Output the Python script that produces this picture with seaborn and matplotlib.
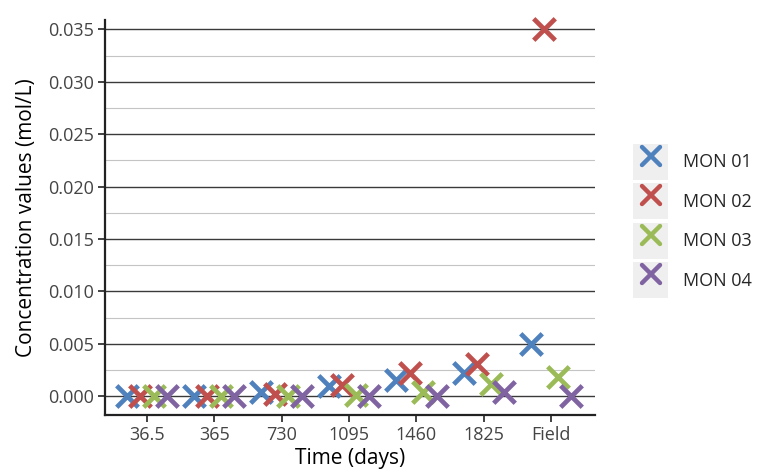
import matplotlib
matplotlib.use("Agg")
import matplotlib.pyplot as plt
from matplotlib.lines import Line2D
from matplotlib.patches import Patch
from matplotlib.markers import MarkerStyle
from matplotlib.legend_handler import HandlerTuple
from matplotlib.ticker import MultipleLocator, FormatStrFormatter
import seaborn as sns
import pandas as pd

# Sampling times (categories on the x axis)
times = ["36.5", "365", "730", "1095", "1460", "1825", "Field"]
monitors = ["MON 01", "MON 02", "MON 03", "MON 04"]
colors = ["#4f81bd", "#c0504d", "#9bbb59", "#8064a2"]

# Concentration (mol/L) per monitor, one value per time
mon01 = [0.00005, 0.00005, 0.00038, 0.00097, 0.0015, 0.0022, 0.0050]
mon02 = [0.00005, 0.00005, 0.00023, 0.0011, 0.0022, 0.0031, 0.0350]
mon03 = [0.00005, 0.00005, 0.00003, 0.0001, 0.0004, 0.0012, 0.0018]
mon04 = [0.00003, 0.00003, 0.00003, 0.00003, 0.00005, 0.0004, 0.00002]

rows = []
for name, vals in zip(monitors, [mon01, mon02, mon03, mon04]):
    for t, v in zip(times, vals):
        rows.append({"time": t, "monitor": name, "conc": v})
df = pd.DataFrame(rows)

sns.set_theme(style="white")
plt.rcParams["font.family"] = ["Open Sans", "DejaVu Sans"]

fig = plt.figure(figsize=(7.59, 4.73), dpi=100)
ax = fig.add_axes([105 / 759, 1 - 415 / 473, 490 / 759, 395 / 473])

xmark = MarkerStyle("x", capstyle="round")
sns.stripplot(data=df, x="time", y="conc", hue="monitor", order=times,
              hue_order=monitors, palette=colors, dodge=True, jitter=False,
              marker=xmark, size=15.5, linewidth=3.4, legend=False, ax=ax,
              zorder=3, clip_on=False)

ax.set_xlim(-0.62, 6.65)
ax.set_ylim(-0.0018, 0.0359)
ax.yaxis.set_major_locator(MultipleLocator(0.005))
ax.yaxis.set_minor_locator(MultipleLocator(0.0025))
ax.yaxis.set_major_formatter(FormatStrFormatter("%.3f"))
ax.grid(False)
ax.grid(axis="y", which="major", color="#3a3a3a", linewidth=1.0, zorder=0)
ax.grid(axis="y", which="minor", color="#c4c4c4", linewidth=0.8, zorder=0)
ax.set_axisbelow(True)

for side in ["top", "right"]:
    ax.spines[side].set_visible(False)
for side in ["left", "bottom"]:
    ax.spines[side].set_color("#222222")
    ax.spines[side].set_linewidth(1.6)

ax.tick_params(axis="both", which="major", direction="out", length=5,
               width=1.2, color="#222222", labelsize=13,
               labelcolor="#444444", left=True, bottom=True, pad=3)
ax.tick_params(axis="y", which="minor", length=0)

ax.set_xlabel("Time (days)", fontsize=15, color="black", labelpad=3)
ax.set_ylabel("Concentration values (mol/L)", fontsize=15, color="black",
              labelpad=8)

# Legend with shaded key boxes
handles = []
for c in colors:
    bg = Patch(facecolor="#efefef", edgecolor="none")
    mk = Line2D([], [], linestyle="none", marker=xmark, color=c,
                markersize=13, markeredgewidth=3.2)
    handles.append((bg, mk))
fig.legend(handles, monitors, loc="center left",
           bbox_to_anchor=(633 / 759, 1 - 221 / 473),
           handler_map={tuple: HandlerTuple(ndivide=1, pad=0)},
           frameon=False, fontsize=13, handlelength=1.95, handleheight=2.65,
           labelspacing=0.22, handletextpad=0.8, borderpad=0,
           borderaxespad=0)

fig.savefig("out.png", dpi=100)
